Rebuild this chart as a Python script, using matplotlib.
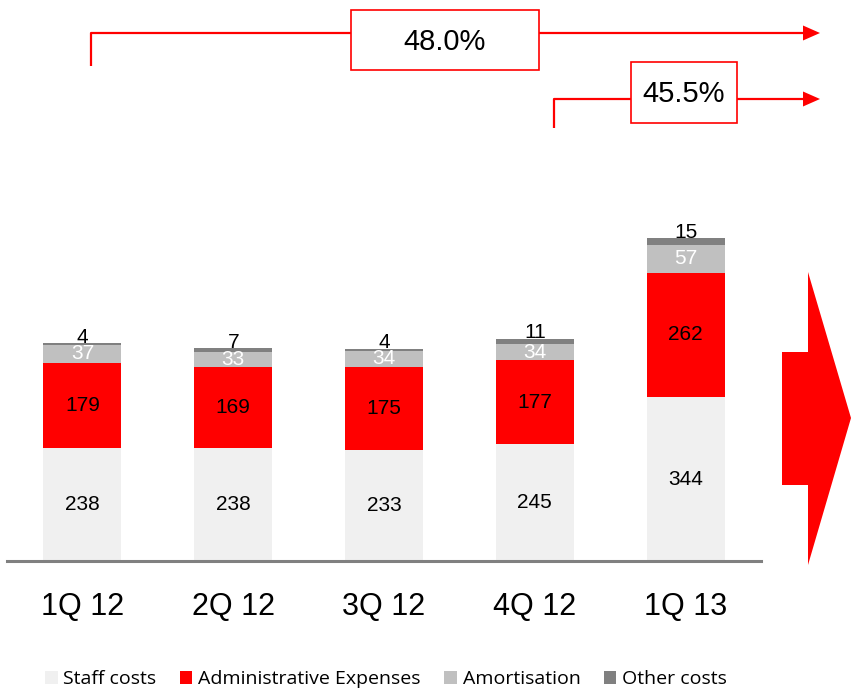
import numpy as np
import matplotlib
matplotlib.use('Agg')
import matplotlib.pyplot as plt
from matplotlib.patches import Polygon, Rectangle, Patch

quarters = ['1Q 12', '2Q 12', '3Q 12', '4Q 12', '1Q 13']
staff = [238, 238, 233, 245, 344]
admin = [179, 169, 175, 177, 262]
amort = [37, 33, 34, 34, 57]
other = [4, 7, 4, 11, 15]

series_names = ['Staff costs', 'Administrative Expenses', 'Amortisation', 'Other costs']
colors = ['#f0f0f0', '#ff0000', '#c0c0c0', '#808080']

plt.rcParams['font.family'] = ['Liberation Sans', 'DejaVu Sans']

W, H = 854, 690
fig = plt.figure(figsize=(W / 100, H / 100), dpi=100)

# bar chart area (pixel-based placement)
ax = fig.add_axes([7 / W, (H - 561) / H, 754 / W, 361 / H])
x = np.arange(len(quarters))
bw = 0.516
b0 = np.zeros(len(quarters))
for vals, c in zip([staff, admin, amort, other], colors):
    ax.bar(x, vals, bw, bottom=b0, color=c, edgecolor='none')
    b0 = b0 + np.array(vals)

ax.set_xlim(-0.5, 4.5)
ax.set_ylim(0, 361 / 0.476)
for s in ['top', 'right', 'left']:
    ax.spines[s].set_visible(False)
ax.spines['bottom'].set_color('#808080')
ax.spines['bottom'].set_linewidth(2.2)
ax.set_yticks([])
ax.set_xticks(x)
ax.set_xticklabels(quarters, fontsize=22)
ax.tick_params(axis='x', length=0, pad=22)

for i in range(len(quarters)):
    ax.text(i, staff[i] / 2, str(staff[i]), ha='center', va='center', fontsize=15, color='black')
    ax.text(i, staff[i] + admin[i] / 2, str(admin[i]), ha='center', va='center', fontsize=15, color='black')
    ax.text(i, staff[i] + admin[i] + amort[i] / 2, str(amort[i]), ha='center', va='center',
            fontsize=15, color='white')
    top = staff[i] + admin[i] + amort[i] + other[i]
    ax.text(i, top + 1, str(other[i]), ha='center', va='baseline', fontsize=15, color='black')

# overlay in pixel coordinates for growth arrows
ov = fig.add_axes([0, 0, 1, 1])
ov.set_xlim(0, W)
ov.set_ylim(H, 0)
ov.axis('off')
ov.patch.set_alpha(0)

red = '#ff0000'


def growth_arrow(x0, y0, y1, label, box):
    ov.plot([x0, x0, 804], [y0, y1, y1], color=red, lw=1.6, solid_capstyle='butt')
    ov.add_patch(Polygon([[803, y1 - 7.5], [820, y1], [803, y1 + 7.5]], closed=True,
                         facecolor=red, edgecolor='none'))
    bx0, by0, bx1, by1 = box
    ov.add_patch(Rectangle((bx0, by0), bx1 - bx0, by1 - by0, facecolor='white',
                           edgecolor=red, lw=1.2, zorder=3))
    ov.text((bx0 + bx1) / 2, (by0 + by1) / 2 + 2, label, ha='center', va='center',
            fontsize=21, color='black', zorder=4)


growth_arrow(91, 66, 33, '48.0%', (351, 10, 539, 70))
growth_arrow(554, 128, 99, '45.5%', (631, 62, 737, 123))

# big right-pointing arrow
ov.add_patch(Polygon([[782, 352], [808, 352], [808, 272], [851, 418],
                      [808, 565], [808, 485], [782, 485]], closed=True,
                     facecolor=red, edgecolor='none'))

handles = [Patch(facecolor=c, edgecolor='none') for c in colors]
fig.legend(handles, series_names, loc='center', bbox_to_anchor=(386 / W, (H - 679) / H),
           ncol=4, frameon=False, prop={'family': 'Open Sans', 'size': 14},
           handlelength=0.65, handleheight=0.65, handletextpad=0.3, columnspacing=1.2)

fig.savefig('out.png', dpi=100)
